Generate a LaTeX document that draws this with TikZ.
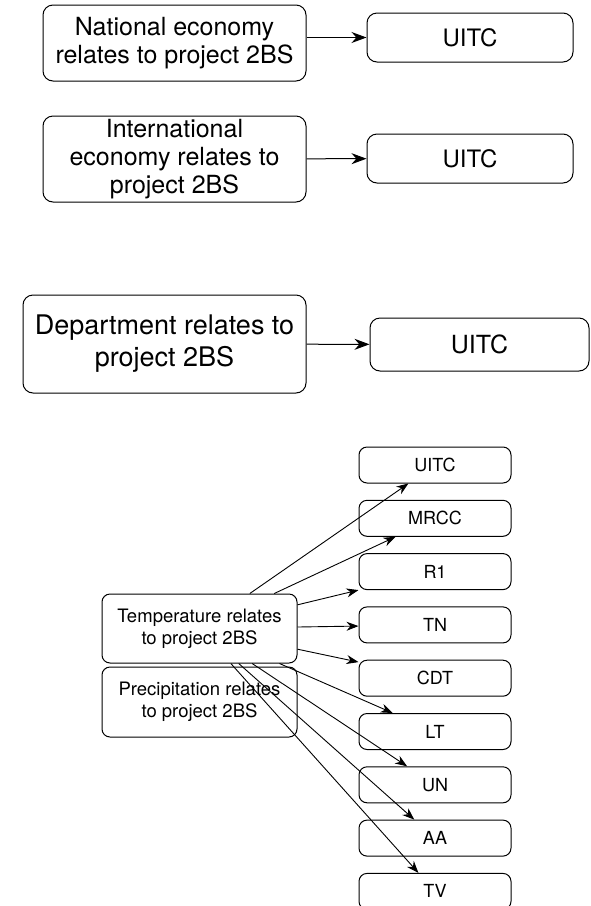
\documentclass[tikz,border=0pt]{standalone}
\usepackage{fontspec}
\setmainfont{TeX Gyre Heros}
\usetikzlibrary{arrows.meta,positioning}

\begin{document}
\begin{tikzpicture}[
  x=1pt,y=-1pt,
  node distance=16.3pt,
  bigbox/.style={draw=black,line width=1pt,rounded corners=10pt,align=center,inner ysep=0pt,font=\fontsize{25}{28}\selectfont},
  tag/.style={draw=black,line width=1pt,rounded corners=10pt,minimum width=206pt,minimum height=49pt,font=\fontsize{24}{28}\selectfont},
  smallbox/.style={draw=black,line width=1pt,rounded corners=8pt,minimum width=195pt,align=center,font=\fontsize{18.5}{22}\selectfont},
  item/.style={draw=black,line width=1pt,rounded corners=8pt,minimum width=152pt,minimum height=36pt,font=\fontsize{18}{22}\selectfont},
  arrow/.style={-{Stealth[length=15pt,width=11pt]},line width=1pt},
  thin arrow/.style={-{Stealth[length=12pt,width=9pt]},line width=0.9pt}
]
\useasboundingbox (0,0) rectangle (590,906);
% economy and department boxes
\node[bigbox,minimum width=263pt,minimum height=76pt] (nat) at (174.5,43) {National economy\\relates to project 2BS};
\node[tag] (uitcA) at (470,37.5) {UITC};
\node[bigbox,minimum width=263pt,minimum height=86pt] (intl) at (174.5,159) {International\\economy relates to\\project 2BS};
\node[tag] (uitcB) at (470,158.5) {UITC};
\node[bigbox,minimum width=283pt,minimum height=98pt,font=\fontsize{27}{32}\selectfont] (dept) at (164.5,344) {Department relates to\\project 2BS};
\node[tag,minimum width=219pt,minimum height=53pt,font=\fontsize{25}{30}\selectfont] (uitcC) at (479.5,344.5) {UITC};
\draw[arrow] (nat.east |- uitcA) -- (uitcA);
\draw[arrow] (intl) -- (uitcB);
\draw[arrow] (dept) -- (uitcC);
% climate boxes
\node[smallbox,minimum height=69pt] (temp) at (199.5,628.5) {Temperature relates\\to project 2BS};
\node[smallbox,minimum height=70pt] (prec) at (199.5,702) {Precipitation relates\\to project 2BS};
\node[item] (uitcD) at (435,465) {UITC};
\node[item,below=of uitcD] (mrcc) {MRCC};
\node[item,below=of mrcc] (rone) {R1};
\node[item,below=of rone] (tn) {TN};
\node[item,below=of tn] (cdt) {CDT};
\node[item,below=of cdt] (lt) {LT};
\node[item,below=of lt] (un) {UN};
\node[item,below=of un] (aa) {AA};
\node[item,below=of aa] (tv) {TV};
\foreach \target in {uitcD,mrcc,rone,tn,cdt,lt,un,aa,tv}
  \draw[thin arrow] (temp) -- (\target);
\end{tikzpicture}
\end{document}
